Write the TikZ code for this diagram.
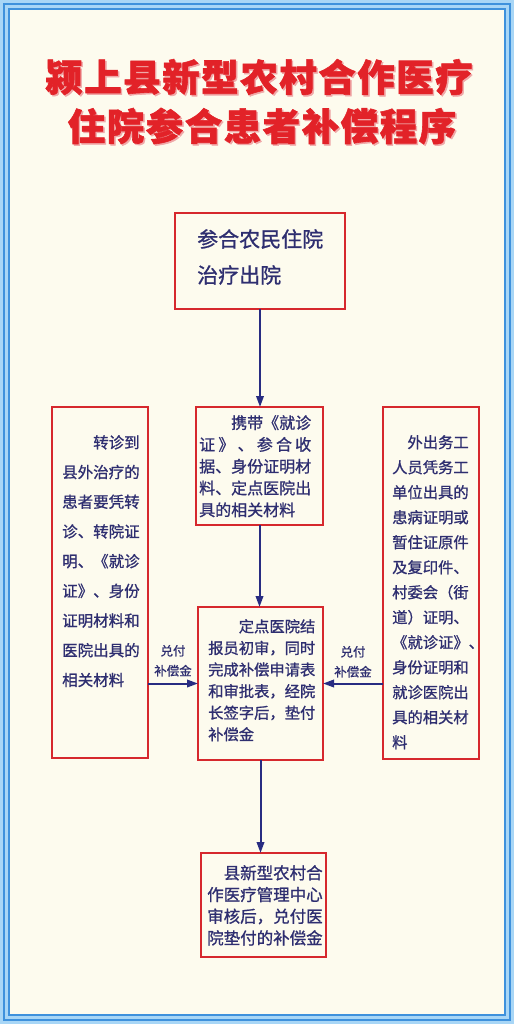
\documentclass[tikz,border=0pt]{standalone}
\usepackage{fontspec}
\usetikzlibrary{arrows.meta,positioning}
\newfontfamily\cjk{Noto Sans CJK SC}

\definecolor{paper}{RGB}{253,251,238}
\definecolor{framelight}{RGB}{168,214,246}
\definecolor{frameblue}{RGB}{62,145,220}
\definecolor{boxred}{RGB}{214,40,45}
\definecolor{titlered}{RGB}{226,34,40}
\definecolor{titleshade}{RGB}{240,168,168}
\definecolor{ink}{RGB}{46,46,112}
\definecolor{arrowblue}{RGB}{40,44,130}

\begin{document}
\begin{tikzpicture}[x=1pt, y=-1pt, >={Triangle[length=11pt,width=7.5pt]},
  box/.style={draw=boxred, line width=2.8pt, fill=paper, inner sep=0pt, outer sep=0pt, anchor=north west},
  txt/.style={text=ink, align=left, inner sep=0pt, font=\cjk\fontsize#1\selectfont\addfontfeature{FakeBold=1}},
  lbl/.style={text=ink, align=center, inner sep=0pt, font=\cjk\fontsize{12.5}{20}\selectfont\addfontfeature{FakeBold=1}},
  title/.style={inner sep=0pt, font=\cjk\bfseries\fontsize{37.5}{40}\selectfont\addfontfeature{LetterSpace=4,FakeBold=1.5}},
  arrow/.style={->, draw=arrowblue, fill=arrowblue, line width=2pt}]
\useasboundingbox (0,0) rectangle (514,1024);

% frame and paper
\fill[framelight] (0,0) rectangle (514,1024);
\draw[frameblue, line width=1.8pt] (3.8,3.8) rectangle (510.2,1020.2);
\draw[frameblue, line width=1.5pt] (8.8,8.8) rectangle (505.2,1015.2);
\fill[paper] (9.6,9.6) rectangle (504.4,1014.4);

% title
\node[title, text=titleshade] (t1s) at (260.5,78.5) {颍上县新型农村合作医疗};
\node[title, text=titlered] (t1) at (259,77) {颍上县新型农村合作医疗};
\node[title, text=titleshade] (t2s) at (263.5,127.5) {住院参合患者补偿程序};
\node[title, text=titlered] (t2) at (262,126) {住院参合患者补偿程序};

% boxes
\node[box, minimum width=170pt, minimum height=96pt] (canhe) at (175,213) {};
\node[txt={{21}{36}}, below right=16pt and 22pt of canhe.north west] (canhe-t)
  {参合农民住院\\治疗出院};

\node[box, minimum width=127pt, minimum height=118pt] (zhengjian) at (196,407) {};
\node[txt={{16}{21.8}}, below right=8pt and 3pt of zhengjian.north west] (zhengjian-t)
  {\hspace*{2em}携带《就诊\\\makebox[7em]{证\hfill 》\hfill 、\hfill 参\hfill 合\hfill 收}\\据、身份证明材\\料、定点医院出\\具的相关材料};

\node[box, minimum width=96pt, minimum height=351pt] (zhuanzhen) at (52,407) {};
\node[txt={{15.5}{29.7}}, below right=28pt and 10pt of zhuanzhen.north west] (zhuanzhen-t)
  {\hspace*{2em}转诊到\\县外治疗的\\患者要凭转\\诊、转院证\\明、《就诊\\证》、身份\\证明材料和\\医院出具的\\相关材料};

\node[box, minimum width=96pt, minimum height=352pt] (waichu) at (383,407) {};
\node[txt={{15.3}{25}}, below right=28pt and 9pt of waichu.north west] (waichu-t)
  {\hspace*{1em}外出务工\\人员凭务工\\单位出具的\\患病证明或\\暂住证原件\\及复印件、\\村委会（街\\道）证明、\\《就诊证》、\\身份证明和\\就诊医院出\\具的相关材\\料};

\node[box, minimum width=125pt, minimum height=153pt] (dingdian) at (198,607) {};
\node[txt={{15.3}{21.6}}, below right=12pt and 10pt of dingdian.north west] (dingdian-t)
  {\hspace*{2em}定点医院结\\报员初审，同时\\完成补偿申请表\\和审批表，经院\\长签字后，垫付\\补偿金};

\node[box, minimum width=125pt, minimum height=104pt] (xian) at (201,853) {};
\node[txt={{16.5}{21.7}}, below right=12pt and 6pt of xian.north west] (xian-t)
  {\hspace*{1em}县新型农村合\\作医疗管理中心\\审核后，兑付医\\院垫付的补偿金};

% arrows
\draw[arrow] (canhe.south) -- (canhe.south |- zhengjian.north);
\draw[arrow] (zhengjian.south) -- (zhengjian.south |- dingdian.north);
\draw[arrow] (dingdian.south) -- (dingdian.south |- xian.north);
\draw[arrow] (zhuanzhen.east |- dingdian.west) -- node[lbl, above=6pt] (pay-l) {兑付\\补偿金} (dingdian.west);
\draw[arrow] (waichu.west |- dingdian.east) -- node[lbl, above=5pt] (pay-r) {兑付\\补偿金} (dingdian.east);

\end{tikzpicture}
\end{document}
